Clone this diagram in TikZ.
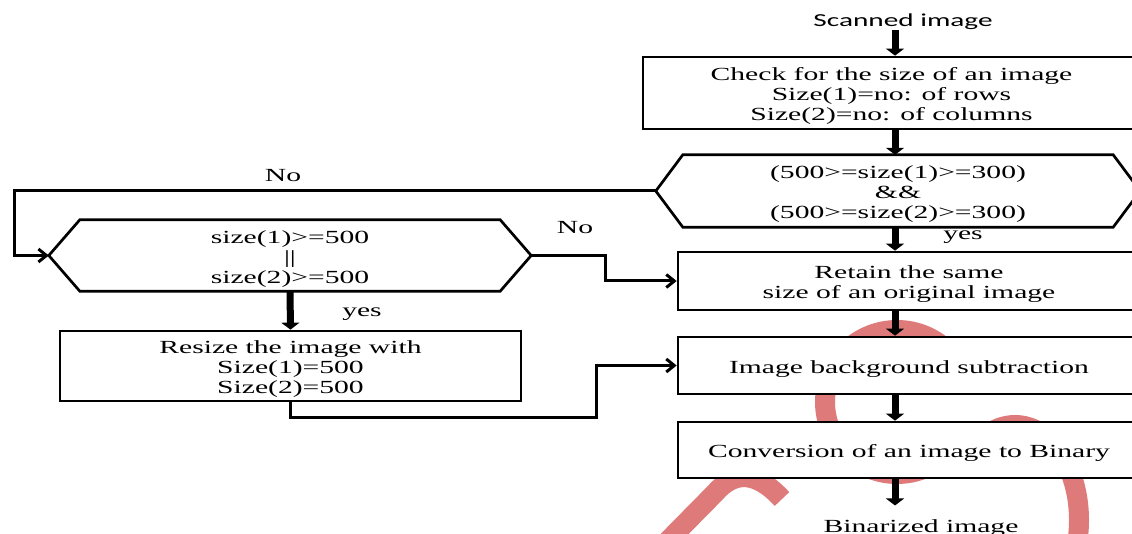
\documentclass[tikz,border=0pt]{standalone}
\usepackage{fontspec}
\setmainfont{Liberation Serif}[FakeStretch=1.6]
\newfontfamily\calfont{Carlito}[FakeStretch=1.6]
\usetikzlibrary{arrows.meta,calc}
\definecolor{wmred}{RGB}{223,122,122}
\newcommand\myfirststrut{\rule{0pt}{19pt}}
\begin{document}
\begin{tikzpicture}[x=1pt,y=-1pt,
  every node/.style={font=\fontsize{18.5}{20}\selectfont},
  wm/.style={draw=wmred,line width=20pt},
  boxst/.style={draw,fill=white,line width=2.7pt,inner sep=0pt,align=center},
  hexst/.style={inner sep=0pt},
  hexline/.style={draw,fill=white,line width=2.7pt,line join=miter},
  hextext/.style={inner sep=0pt,align=center},
  thickarr/.style={line width=7pt,-{Triangle[width=18pt,length=7pt]}},
  conn/.style={line width=3pt,line join=miter,-{Straight Barb[length=8pt,width=13pt]}},
  lbl/.style={inner sep=0pt,anchor=base}
]
\useasboundingbox (0,0) rectangle (1132,534);
\clip (0,0) rectangle (1132,534);
% watermark
\draw[wm] (897,402) ++(-50:72) arc[start angle=-50,end angle=-320,radius=72];
\draw[wm] (1015,520) ++(-140:64 and 95) arc[start angle=-140,end angle=20,x radius=64,y radius=95];
\draw[wm] (649,560) -- (715,493) .. controls (735,470) and (757,472) .. (782,499);
% nodes
\node[lbl,font={\calfont\fontsize{18.3}{20}\selectfont}] (scan) at (903,27) {Scanned image};
\node[boxst,minimum width=497pt,minimum height=72pt] (box1) at (891.5,93)
  {\myfirststrut Check for the size of an image\\Size(1)=no: of rows\\Size(2)=no: of columns};
\node[hexst,minimum width=484pt,minimum height=72pt] (hex1) at (898,191) {};
\draw[hexline] ([xshift=27pt]hex1.north west) -- ([xshift=-27pt]hex1.north east) -- (hex1.east)
  -- ([xshift=-27pt]hex1.south east) -- ([xshift=27pt]hex1.south west) -- (hex1.west) -- cycle
  node[hextext] (hex1t) at (hex1.center) {\myfirststrut(500>=size(1)>=300)\\\&\&\\(500>=size(2)>=300)};
\node[boxst,minimum width=462pt,minimum height=58pt] (retain) at (909,281)
  {\myfirststrut Retain the same\\size of an original image};
\node[boxst,minimum width=462pt,minimum height=57pt] (bg) at (909,365.5)
  {\myfirststrut Image background subtraction};
\node[boxst,minimum width=462pt,minimum height=56pt] (conv) at (909,450)
  {\myfirststrut Conversion of an image to Binary};
\node[lbl] (bin) at (921,532.5) {Binarized image};
\node[hexst,minimum width=482pt,minimum height=71pt] (hex2) at (290,255.5) {};
\draw[hexline] ([xshift=31pt]hex2.north west) -- ([xshift=-31pt]hex2.north east) -- (hex2.east)
  -- ([xshift=-31pt]hex2.south east) -- ([xshift=31pt]hex2.south west) -- (hex2.west) -- cycle
  node[hextext] (hex2t) at (hex2.center) {\myfirststrut size(1)>=500\\||\\size(2)>=500};
\node[boxst,minimum width=461pt,minimum height=70pt] (resize) at (290.5,366)
  {\myfirststrut Resize the image with\\Size(1)=500\\Size(2)=500};
% labels
\node[lbl] (no1) at (283,182) {No};
\node[lbl] (no2) at (575,234) {No};
\node[lbl] (yes1) at (362,317) {yes};
\node[lbl] (yes2) at (963,240) {yes};
% connectors
\coordinate (ax) at (895,0);
\draw[thickarr] (scan.south -| ax) -- (box1.north -| ax);
\draw[thickarr] (box1.south -| ax) -- (hex1.north -| ax);
\draw[thickarr] (hex1.south -| ax) -- (retain.north -| ax);
\draw[thickarr] (retain.south -| ax) -- (bg.north -| ax);
\draw[thickarr] (bg.south -| ax) -- (conv.north -| ax);
\draw[thickarr] (conv.south -| ax) -- ([yshift=14pt]bin.north -| ax);
\draw[thickarr] (hex2.south) -- (resize.north);
\draw[conn] (hex1.west) -| ([xshift=-34pt]hex2.west) -- (hex2.west);
\draw[conn] (hex2.east) -- ++(74,0) |- (retain.west);
\draw[conn] (resize.south) |- ([xshift=-80pt,yshift=-52pt]bg.west) -- ([xshift=-80pt]bg.west) -- (bg.west);
\end{tikzpicture}
\end{document}
